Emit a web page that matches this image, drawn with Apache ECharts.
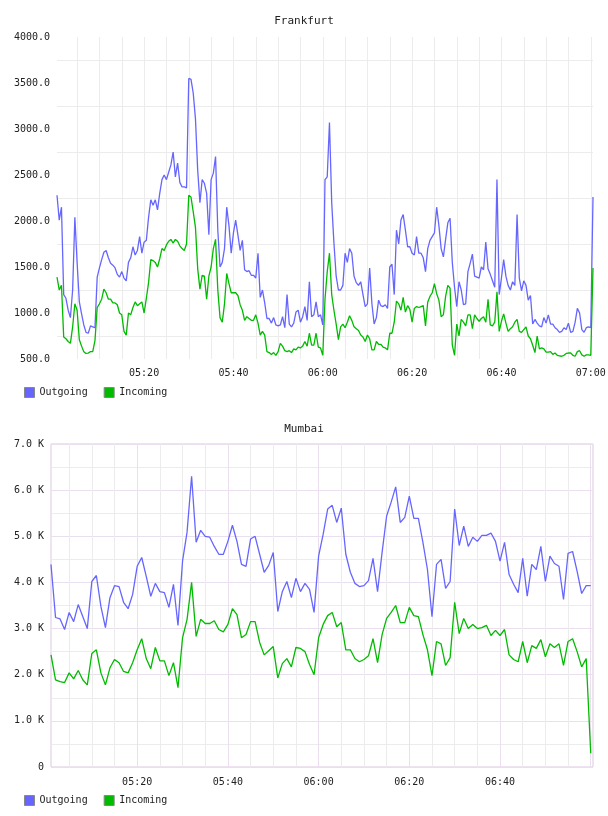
<!DOCTYPE html>
<html><head><meta charset="utf-8">
<script src="https://cdn.jsdelivr.net/npm/echarts@6/dist/echarts.min.js"></script>
<style>html,body{margin:0;padding:0;background:#fff}#c{width:608px;height:816px}</style>
</head><body><div id="c"></div><script>
const topTitle = 'Frankfurt';
const bottomTitle = 'Mumbai';
const seriesNames = ['Outgoing', 'Incoming'];

// Frankfurt: samples every 30 s starting 05:00:30
const topStart = '05:00:30';
const topStepSeconds = 30;
const topOutgoing = [
2280,2010,2150,1200,1160,1030,950,1250,2040,1550,
1120,990,870,790,780,860,850,840,1390,1490,
1580,1660,1680,1600,1540,1520,1490,1420,1390,1450,
1380,1350,1550,1600,1720,1630,1680,1830,1650,1770,
1790,2040,2230,2170,2230,2120,2300,2450,2500,2450,
2530,2610,2750,2480,2630,2420,2370,2370,2360,3550,
3540,3390,3110,2550,2200,2450,2410,2300,1850,2450,
2520,2700,1900,1500,1550,1700,2150,1950,1650,1870,
2010,1850,1680,1790,1470,1450,1460,1410,1410,1380,
1650,1170,1250,1110,940,940,890,950,870,860,
870,960,840,1200,880,850,890,1010,1030,900,
960,1070,920,1340,960,980,1120,960,980,870,
2450,2480,3070,2200,1760,1400,1250,1250,1300,1650,
1550,1700,1650,1400,1330,1300,1340,1200,1070,1100,
1490,1100,880,950,1140,1080,1070,1090,1050,1500,
1530,1200,1900,1750,2010,2070,1900,1720,1720,1650,
1630,1830,1650,1650,1600,1450,1700,1790,1830,1870,
2150,1950,1700,1610,1800,1980,2030,1550,1280,1070,
1340,1250,1090,1100,1450,1540,1640,1400,1390,1380,
1500,1470,1770,1480,1420,1350,1280,2450,1200,1380,
1580,1400,1300,1250,1340,1300,2070,1380,1240,1350,
1300,1140,1190,880,930,890,860,850,950,890,
980,880,880,840,820,790,800,840,820,890,
790,800,900,1050,1000,820,790,840,850,840,
2260];
const topIncoming = [
1390,1250,1300,740,720,690,670,850,1100,1030,
710,640,580,560,565,580,580,700,1060,1100,
1150,1260,1220,1150,1150,1110,1110,1090,1000,980,
800,760,1000,980,1060,1120,1080,1100,1120,1000,
1160,1330,1580,1570,1550,1500,1590,1700,1680,1740,
1780,1800,1760,1800,1780,1730,1700,1680,1750,2280,
2260,2100,1930,1480,1260,1410,1400,1150,1400,1500,
1700,1800,1250,950,900,1100,1430,1320,1220,1220,
1220,1190,1090,1030,920,960,940,920,920,980,
890,760,800,760,580,570,550,570,540,580,
670,640,590,580,590,570,610,600,630,620,
640,690,640,780,650,650,780,630,620,540,
1150,1450,1650,1200,1030,880,710,850,880,840,
900,970,920,850,830,810,760,740,690,760,
720,600,600,690,660,660,630,620,600,780,
780,900,1130,1100,1030,1170,1010,1080,1040,900,
1050,1070,1060,1070,1080,860,1120,1180,1220,1320,
1210,1140,960,980,1180,1300,1270,650,540,880,
750,930,900,860,980,980,830,980,940,910,
940,960,900,1150,870,860,900,1230,800,910,
990,890,800,830,850,900,930,800,790,820,
850,750,720,650,570,750,610,620,610,575,
575,580,550,565,540,535,530,540,560,565,
565,540,530,580,590,545,530,545,545,540,
1490];

// Mumbai: samples every 60 s starting 05:01:00
const bottomStart = '05:01:00';
const bottomStepSeconds = 60;
const bottomOutgoing = [
4390,3240,3210,2980,3350,3150,3520,3260,3000,4020,
4150,3480,3020,3670,3930,3910,3570,3430,3740,4350,
4540,4130,3700,3980,3800,3780,3460,3960,3070,4460,
5090,6300,4870,5130,5000,4980,4780,4610,4610,4890,
5240,4890,4390,4350,4940,5000,4610,4220,4370,4650,
3370,3800,4020,3670,4090,3800,3980,3850,3350,4570,
5040,5590,5670,5300,5610,4610,4220,3980,3910,3930,
4040,4520,3800,4650,5440,5740,6070,5300,5410,5870,
5390,5390,4870,4280,3260,4390,4500,3870,4020,5590,
4800,5220,4780,4980,4890,5020,5020,5070,4890,4460,
4870,4170,3960,3780,4520,3700,4390,4280,4780,4020,
4570,4410,4350,3630,4630,4670,4240,3760,3930,3930];
const bottomIncoming = [
2430,1890,1850,1830,2040,1910,2090,1890,1780,2460,
2540,2040,1780,2150,2330,2260,2070,2040,2260,2540,
2780,2350,2130,2590,2300,2300,1980,2260,1720,2800,
3200,4000,2830,3200,3110,3110,3170,2980,2930,3090,
3430,3300,2800,2870,3150,3150,2700,2430,2520,2610,
1930,2240,2350,2170,2590,2570,2500,2220,2000,2800,
3090,3280,3350,3040,3130,2540,2540,2350,2280,2330,
2410,2780,2260,2870,3220,3350,3500,3130,3130,3460,
3280,3260,2870,2540,1980,2720,2670,2200,2370,3570,
2890,3220,3000,3090,3000,3020,3070,2850,2960,2850,
2980,2430,2330,2280,2720,2260,2630,2570,2760,2390,
2670,2590,2670,2200,2720,2780,2500,2170,2350,300];

// axis ranges (clock times) and tick labels
const topXRange = ['05:00:30', '07:00:30'];
const bottomXRange = ['05:01:00', '07:00:30'];
const gridStart = '05:05:00', gridMajorStart = '05:20:00', gridEnd = '07:00:00';
const minorStepMin = 5, majorStepMin = 20;
const topXLabels = ['05:20', '05:40', '06:00', '06:20', '06:40', '07:00'];
const bottomXLabels = ['05:20', '05:40', '06:00', '06:20', '06:40'];
const topYRange = { min: 500, max: 4000, step: 500 };
const bottomYRange = { min: 0, max: 7000, step: 1000 };

const FONT = 'DejaVu Sans Mono';
const BLUE = '#6666ff', GREEN = '#00bb00';
const GRID_GREY = '#ececec', MAJOR = '#eadfee', BORDER = '#dcc9e0';

function mins(s) { const p = s.split(':').map(Number); return p[0] * 60 + p[1] + (p[2] || 0) / 60; }
function pairs(start, stepSec, vals) { const s = mins(start); return vals.map((v, i) => [s + i * stepSec / 60, v]); }
function pad(n) { return (n < 10 ? '0' : '') + n; }
function hhmm(v) { const r = Math.round(v); return pad(Math.floor(r / 60)) + ':' + pad(r % 60); }
const lbl = { fontFamily: FONT, fontSize: 10, color: '#222' };

// plot boxes
const topBox = { left: 57, top: 37, width: 536, height: 322 };
const botBox = { left: 51, top: 444, width: 542, height: 323 };
function sub(box, range, a, b) {
  const lo = mins(range[0]), hi = mins(range[1]);
  const k = box.width / (hi - lo);
  const l = box.left + (mins(a) - lo) * k, r = box.left + (mins(b) - lo) * k;
  return { left: l, top: box.top, width: r - l, height: box.height, containLabel: false, outerBoundsMode: 'none' };
}
const hidden = { axisLine: { show: false }, axisTick: { show: false }, axisLabel: { show: false }, splitLine: { show: false } };
function dataX(grid, range) { return Object.assign({ type: 'value', gridIndex: grid, min: mins(range[0]), max: mins(range[1]) }, hidden); }
function gridX(grid, a, b, step, color, labels, margin) {
  return {
    type: 'value', gridIndex: grid, min: mins(a), max: mins(b), interval: step,
    axisLine: { show: false }, axisTick: { show: false },
    axisLabel: labels ? Object.assign({ show: true, margin: margin, showMinLabel: true, showMaxLabel: true,
      formatter: v => labels.indexOf(hhmm(v)) >= 0 ? hhmm(v) : '' }, lbl) : { show: false },
    splitLine: { show: true, lineStyle: { color: color, width: 1 } }
  };
}
function hiddenY(grid) { return Object.assign({ type: 'value', gridIndex: grid, min: 0, max: 1 }, hidden); }

const option = {
  animation: false,
  backgroundColor: '#ffffff',
  title: [
    { text: topTitle, left: 'center', top: 16, padding: 0, textStyle: { fontFamily: FONT, fontSize: 11, fontWeight: 'normal', color: '#222' } },
    { text: bottomTitle, left: 'center', top: 424, padding: 0, textStyle: { fontFamily: FONT, fontSize: 11, fontWeight: 'normal', color: '#222' } }
  ],
  legend: [
    { left: 24, top: 387, padding: 0, itemWidth: 10, itemHeight: 10, itemGap: 16, icon: 'rect',
      itemStyle: { borderColor: '#888', borderWidth: 1 }, textStyle: lbl, data: seriesNames },
    { left: 24, top: 795, padding: 0, itemWidth: 10, itemHeight: 10, itemGap: 16, icon: 'rect',
      itemStyle: { borderColor: '#888', borderWidth: 1 }, textStyle: lbl, data: seriesNames }
  ],
  grid: [
    Object.assign({ containLabel: false, outerBoundsMode: 'none' }, topBox),
    sub(topBox, topXRange, gridStart, gridEnd),
    Object.assign({ containLabel: false, outerBoundsMode: 'none', show: true, borderColor: BORDER, borderWidth: 1, backgroundColor: 'transparent' }, botBox),
    sub(botBox, bottomXRange, gridStart, gridEnd),
    sub(botBox, bottomXRange, gridMajorStart, gridEnd)
  ],
  xAxis: [
    dataX(0, topXRange),
    gridX(1, gridStart, gridEnd, minorStepMin, GRID_GREY, topXLabels, 9),
    dataX(2, bottomXRange),
    gridX(3, gridStart, gridEnd, minorStepMin, GRID_GREY, bottomXLabels, 10),
    gridX(4, gridMajorStart, gridEnd, majorStepMin, MAJOR, null, 0)
  ],
  yAxis: [
    { type: 'value', gridIndex: 0, min: topYRange.min, max: topYRange.max, interval: topYRange.step,
      axisLine: { show: false }, axisTick: { show: false },
      axisLabel: Object.assign({ margin: 7, formatter: v => v.toFixed(1) }, lbl),
      splitLine: { show: false },
      minorTick: { show: false, splitNumber: 2 },
      minorSplitLine: { show: true, lineStyle: { color: GRID_GREY, width: 1 } } },
    hiddenY(1),
    { type: 'value', gridIndex: 2, min: bottomYRange.min, max: bottomYRange.max, interval: bottomYRange.step,
      axisLine: { show: false }, axisTick: { show: false },
      axisLabel: Object.assign({ margin: 7, formatter: v => v === 0 ? '0' : (v / 1000).toFixed(1) + ' K' }, lbl),
      splitLine: { show: true, lineStyle: { color: MAJOR, width: 1 } },
      minorTick: { show: false, splitNumber: 2 },
      minorSplitLine: { show: true, lineStyle: { color: GRID_GREY, width: 1 } } },
    hiddenY(3),
    hiddenY(4)
  ],
  series: [
    { name: seriesNames[0], type: 'line', xAxisIndex: 0, yAxisIndex: 0, data: pairs(topStart, topStepSeconds, topOutgoing),
      showSymbol: false, color: BLUE, lineStyle: { color: BLUE, width: 1.3 } },
    { name: seriesNames[1], type: 'line', xAxisIndex: 0, yAxisIndex: 0, data: pairs(topStart, topStepSeconds, topIncoming),
      showSymbol: false, color: GREEN, lineStyle: { color: GREEN, width: 1.3 } },
    { name: seriesNames[0], type: 'line', xAxisIndex: 2, yAxisIndex: 2, data: pairs(bottomStart, bottomStepSeconds, bottomOutgoing),
      showSymbol: false, color: BLUE, lineStyle: { color: BLUE, width: 1.3 } },
    { name: seriesNames[1], type: 'line', xAxisIndex: 2, yAxisIndex: 2, data: pairs(bottomStart, bottomStepSeconds, bottomIncoming),
      showSymbol: false, color: GREEN, lineStyle: { color: GREEN, width: 1.3 } }
  ]
};
const chart = echarts.init(document.getElementById('c'), null, { renderer: 'canvas' });
chart.setOption(option);
</script></body></html>
